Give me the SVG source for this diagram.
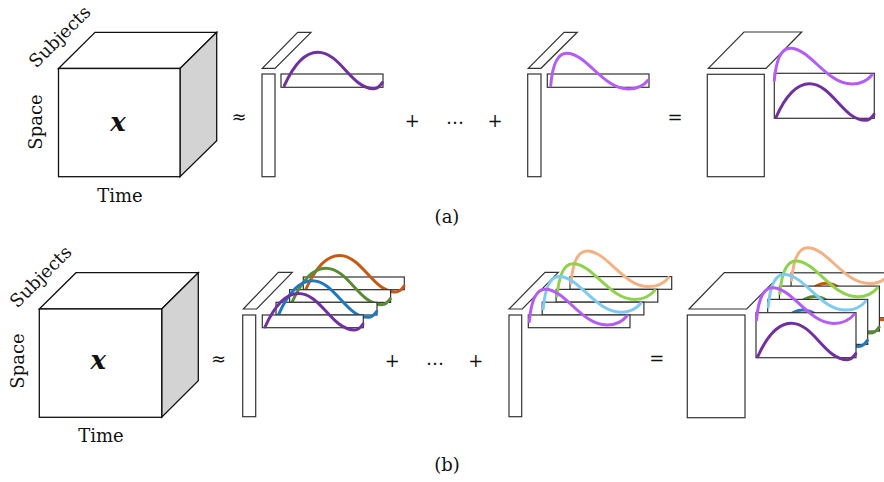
<svg xmlns="http://www.w3.org/2000/svg" xmlns:xlink="http://www.w3.org/1999/xlink" width="884" height="482" viewBox="0 0 884 482">
<style>
.ln{fill:#fff;stroke:#333;stroke-width:1.2;stroke-linejoin:miter}
.cb{fill:#fff;stroke:#111;stroke-width:1.3;stroke-linejoin:miter}
.sd{fill:#d3d3d3;stroke:#111;stroke-width:1.3}
.cv{fill:none;stroke-width:3;stroke-linecap:round}
.t{font-family:"DejaVu Serif","Liberation Serif",serif;font-size:18px;fill:#111;text-anchor:middle}
.op{font-family:"DejaVu Serif","Liberation Serif",serif;font-size:18px;fill:#111;text-anchor:middle}
.x{font-family:"DejaVu Serif","Liberation Serif",serif;font-size:26px;font-style:italic;font-weight:bold;fill:#111;text-anchor:middle}
.dp{stroke:#7030a0}.lp{stroke:#b45cf5}
.db{stroke:#1f78c0}.lb{stroke:#7dcbf2}
.dg{stroke:#5a8a34}.lg{stroke:#8fd24e}
.do{stroke:#c55a14}.lo{stroke:#f4b183}
</style>
<defs>
<path id="dk" d="M0,0 C9,-20 20,-33.5 33.5,-33.5 C56,-33.5 67,3 89.5,3 C93,3 96,0 98,-3"/>
<path id="lt" d="M0,0 C1.5,-18 6,-32.4 16,-32.4 C36,-32.4 52,3.3 77.6,3.3 C87,3.3 93,0 97.6,-5.7"/>
</defs>

<!-- Panel (a) -->
<g id="cube-a">
<polygon class="cb" points="58.5,68.5 95,32.3 216.7,32.3 180,68.5"/>
<polygon class="sd" points="180,68.5 216.7,32.3 216.7,140.7 180,176.7"/>
<rect class="cb" x="58.5" y="68.5" width="121.5" height="108.2"/>
<text class="x" x="118" y="130.7">x</text>
<text class="t" transform="translate(64,41) rotate(-45)">Subjects</text>
<text class="t" transform="translate(42,122) rotate(-90)">Space</text>
<text class="t" x="120" y="201.5">Time</text>
</g>
<text class="op" x="239" y="123">≈</text>

<g id="factor-a1">
<polygon class="ln" points="262.3,68.3 275,68.3 311,32.3 297.7,32.3"/>
<rect class="ln" x="262" y="74" width="13" height="102.7"/>
<rect class="ln" x="281" y="74" width="102" height="13.3"/>
<use xlink:href="#dk" href="#dk" class="cv dp" transform="translate(284.3,85.7)"/>
</g>
<text class="op" x="412.3" y="126.5">+</text>
<text class="op" x="455" y="124">…</text>
<text class="op" x="495" y="126.5">+</text>

<g id="factor-aR">
<polygon class="ln" points="528.3,68.3 541,68.3 577.3,32.3 564,32.3"/>
<rect class="ln" x="527.7" y="74" width="13.3" height="102.7"/>
<rect class="ln" x="547.3" y="74" width="101.7" height="13.3"/>
<use xlink:href="#lt" href="#lt" class="cv lp" transform="translate(550.7,85.7)"/>
</g>
<text class="op" x="675" y="124">=</text>

<g id="sum-a">
<polygon class="ln" points="708.3,68.3 766,68.3 801.7,32 744,32"/>
<rect class="ln" x="707.3" y="74.3" width="57" height="102.4"/>
<rect class="ln" x="774.3" y="73.3" width="100" height="45"/>
<use xlink:href="#dk" href="#dk" class="cv dp" transform="translate(776,117.3)"/>
<use xlink:href="#lt" href="#lt" class="cv lp" transform="translate(774.3,80.7)"/>
</g>
<text class="t" x="447" y="223">(a)</text>

<!-- Panel (b) -->
<g id="cube-b">
<polygon class="cb" points="39.3,309 76,272.7 198.3,272.7 161.7,309"/>
<polygon class="sd" points="161.7,309 198.3,272.7 198.3,380.7 161.7,417.3"/>
<rect class="cb" x="39.3" y="309" width="122.4" height="108.3"/>
<text class="x" x="98.3" y="369.3">x</text>
<text class="t" transform="translate(45,281) rotate(-45)">Subjects</text>
<text class="t" transform="translate(24,361) rotate(-90)">Space</text>
<text class="t" x="101" y="441.5">Time</text>
</g>
<text class="op" x="218.5" y="364.5">≈</text>

<g id="factor-b1">
<polygon class="ln" points="243.3,309 256.7,309 292.3,272.3 278.3,272.3"/>
<rect class="ln" x="242.7" y="315" width="13" height="101.7"/>
<rect class="ln" x="303.3" y="277" width="101" height="12.7"/>
<use xlink:href="#dk" href="#dk" class="cv do" transform="translate(306,289)"/>
<rect class="ln" x="289.6" y="289.7" width="101" height="12.7"/>
<use xlink:href="#dk" href="#dk" class="cv dg" transform="translate(292.3,301.7)"/>
<rect class="ln" x="276" y="302.3" width="101" height="12.7"/>
<use xlink:href="#dk" href="#dk" class="cv db" transform="translate(278.7,314.3)"/>
<rect class="ln" x="262.3" y="315" width="101" height="12.7"/>
<use xlink:href="#dk" href="#dk" class="cv dp" transform="translate(265,327)"/>
</g>
<text class="op" x="392.3" y="367">+</text>
<text class="op" x="435" y="365">…</text>
<text class="op" x="475.7" y="367">+</text>

<g id="factor-bR">
<polygon class="ln" points="509,309 522.3,309 558.3,272.3 545,272.3"/>
<rect class="ln" x="509" y="315" width="12.7" height="101.7"/>
<rect class="ln" x="570" y="276.6" width="101.7" height="12.7"/>
<use xlink:href="#lt" href="#lt" class="cv lo" transform="translate(571,283.3)"/>
<rect class="ln" x="556.1" y="289.4" width="101.7" height="12.7"/>
<use xlink:href="#lt" href="#lt" class="cv lg" transform="translate(557.1,296.1)"/>
<rect class="ln" x="542.2" y="302.2" width="101.7" height="12.7"/>
<use xlink:href="#lt" href="#lt" class="cv lb" transform="translate(543.2,308.9)"/>
<rect class="ln" x="528.3" y="315" width="101.7" height="12.7"/>
<use xlink:href="#lt" href="#lt" class="cv lp" transform="translate(529.3,321.7)"/>
</g>
<text class="op" x="656.7" y="365">=</text>

<g id="sum-b">
<polygon class="ln" points="689,309 746.7,309 782.7,272.7 724.3,272.7"/>
<rect class="ln" x="687.3" y="315" width="57.7" height="102.7"/>
<rect class="ln" x="791.1" y="272.8" width="100" height="45"/>
<use xlink:href="#dk" href="#dk" class="cv do" transform="translate(792.8,316.8)"/>
<use xlink:href="#lt" href="#lt" class="cv lo" transform="translate(791.6,280.2)"/>
<rect class="ln" x="779.4" y="286.1" width="100" height="45"/>
<use xlink:href="#dk" href="#dk" class="cv dg" transform="translate(781.1,330.1)"/>
<use xlink:href="#lt" href="#lt" class="cv lg" transform="translate(779.9,293.5)"/>
<rect class="ln" x="767.7" y="299.4" width="100" height="45"/>
<use xlink:href="#dk" href="#dk" class="cv db" transform="translate(769.4,343.4)"/>
<use xlink:href="#lt" href="#lt" class="cv lb" transform="translate(768.2,306.8)"/>
<rect class="ln" x="756" y="312.7" width="100" height="45"/>
<use xlink:href="#dk" href="#dk" class="cv dp" transform="translate(757.7,356.7)"/>
<use xlink:href="#lt" href="#lt" class="cv lp" transform="translate(756.5,320.1)"/>
</g>
<text class="t" x="447" y="471">(b)</text>
</svg>
